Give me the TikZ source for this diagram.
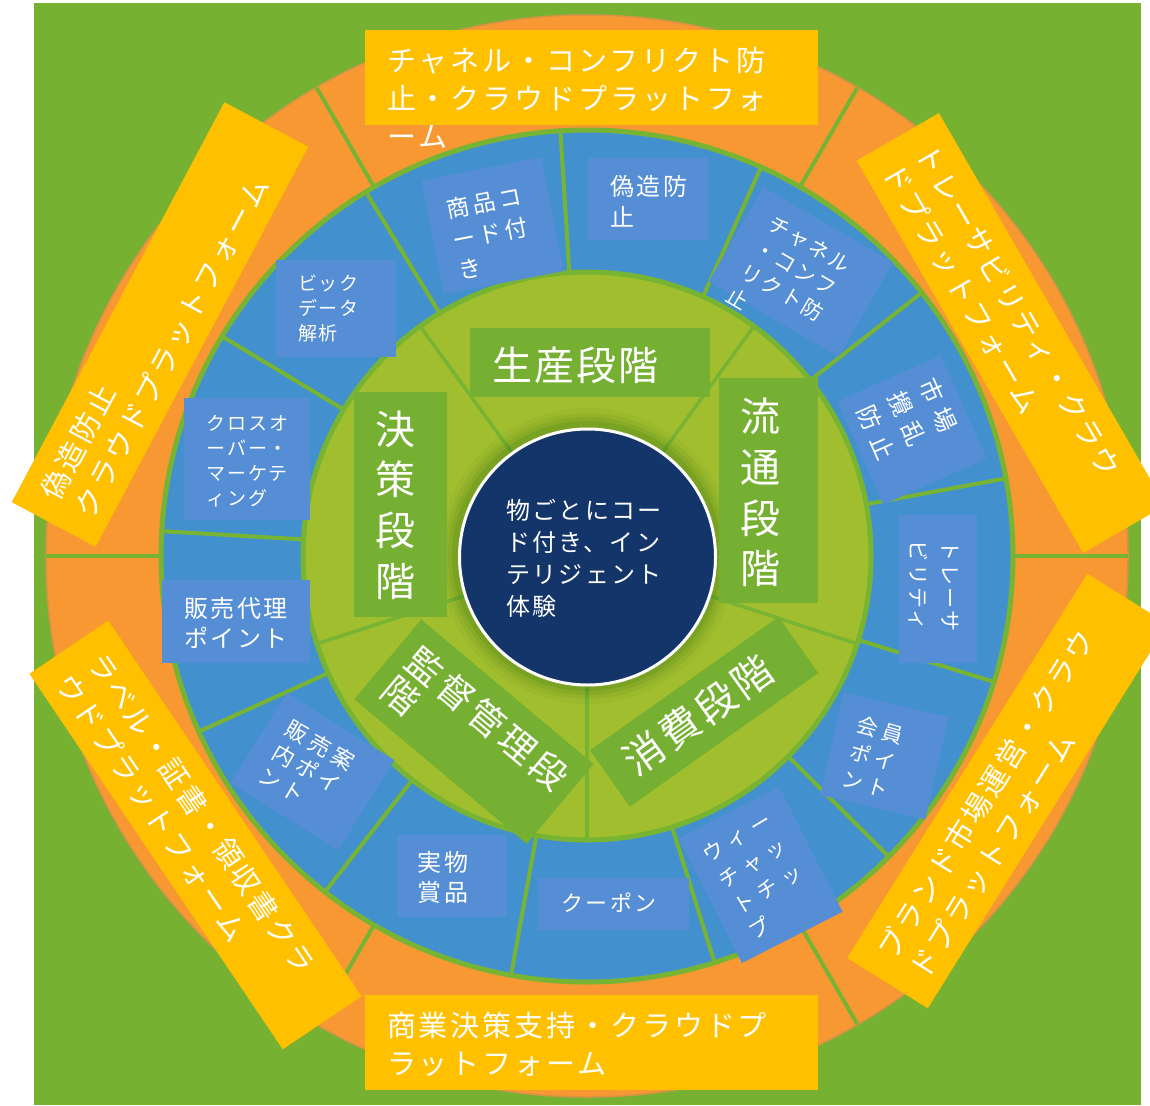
\documentclass[tikz,border=0pt]{standalone}
\usepackage{fontspec}
\setmainfont{Noto Sans CJK JP}
\definecolor{bggreen}{RGB}{119,177,50}
\definecolor{orng}{RGB}{247,152,51}
\definecolor{ringblue}{RGB}{66,145,206}
\definecolor{lblue}{RGB}{85,142,213}
\definecolor{lgreen}{RGB}{161,190,46}
\definecolor{sgreen}{RGB}{118,176,50}
\definecolor{yel}{RGB}{255,192,0}
\definecolor{navy}{RGB}{19,53,105}
\definecolor{divg}{RGB}{120,180,52}
\newcommand\myfs[3]{\fontsize{#1}{#2}\selectfont\addfontfeatures{LetterSpace=#3}}
\tikzset{
  lbox/.style={fill=lblue, inner sep=0pt},
  wtext/.style={text=white, align=left, inner sep=0pt},
  sbox/.style={fill=sgreen, inner sep=0pt},
  ybox/.style={fill=yel, inner sep=0pt, minimum width=453pt, minimum height=95pt},
  ytext/.style={text=white, align=left, inner xsep=22pt, inner ysep=17pt, anchor=north west, font=\myfs{29}{38}{10}},
  divline/.style={draw=divg, line width=4pt},
}
\begin{document}
\begin{tikzpicture}[x=1pt,y=1pt]
\useasboundingbox (0,0) rectangle (1150,-1105);
\fill[white] (0,0) rectangle (1150,-1105);
\fill[bggreen] (34,-3) rectangle (1141,-1105);
\coordinate (C) at (587,-556);
% rings
\fill[orng] (C) circle[radius=541];
\draw[orng!75!gray, line width=1.5pt] (C) circle[radius=541];
\fill[ringblue] (C) circle[radius=426];
\fill[lgreen] (C) circle[radius=284];
% orange ring dividers
\foreach \a in {0,60,...,300} {\draw[divline] (C) ++(\a:426) -- ++(\a:115);}
% blue ring dividers
\foreach \k in {0,...,12} {\pgfmathsetmacro\ang{10.5+27.6923*\k}
  \draw[divline] (C) ++(\ang:284) -- ++(\ang:142);}
\draw[divg, line width=5pt] (C) circle[radius=426];
\draw[divg, line width=5pt] (C) circle[radius=284];
% light green ring dividers
\foreach \a in {54,126,198,270,342} {\draw[divg, line width=3.5pt] (C) ++(\a:129) -- ++(\a:155);}
% core shadow and core
\foreach \r/\o in {148/0.04,143/0.05,139/0.07,135/0.09} {\fill[black!70!green, opacity=\o] (C) circle[radius=\r];}
\node[circle, fill=navy, draw=white, line width=3pt, minimum size=256pt, inner sep=0pt] (core) at (587.5,-557) {};
\node[wtext, font=\myfs{24}{32}{10}] (coret) at (584,-558) {物ごとにコー\\ド付き、イン\\テリジェント\\体験};

% blue ring labels
\node[lbox, rotate=11, minimum width=122pt, minimum height=116pt] (b1) at (492.5,-225.8) {};
\node[wtext, rotate=11, font=\myfs{23}{31}{14}] (b1t) at (490,-233) {商品コ\\ード付\\き};
\node[lbox, minimum width=120pt, minimum height=82pt] (b2) at (648,-199) {};
\node[wtext, font=\myfs{24}{31}{10}] (b2t) at (649,-201) {偽造防\\止};
\node[lbox, rotate=-30, minimum width=150pt, minimum height=109pt] (b3) at (801,-272) {};
\node[wtext, rotate=-30, font=\myfs{21}{27.7}{11}] (b3t) at (789,-280) {チャネル\\・コンフ\\リクト防\\止};
\node[lbox, rotate=-66, minimum width=113pt, minimum height=113pt] (b4) at (912,-430) {};
\node[wtext, rotate=-66, font=\myfs{24}{34}{35}] (b4t) at (907,-419) {市場\\攪乱\\防止};
\node[lbox, minimum width=78pt, minimum height=148pt] (b5) at (938,-589) {};
\node[wtext, rotate=-90, font=\myfs{21}{32}{11}] (b5t) at (934,-586) {トレーサ\\ビリティ};
\node[lbox, rotate=-13, minimum width=108pt, minimum height=105pt] (b6) at (884.5,-756) {};
\node[wtext, rotate=-16, font=\myfs{21}{28}{22}] (b6t) at (873,-756.5) {会員\\ポイ\\ント};
\node[lbox, rotate=27, minimum width=113pt, minimum height=140pt] (b7) at (760.5,-875) {};
\node[wtext, rotate=31, font=\myfs{21}{30}{30}] (b7t) at (760,-876) {ウィー\\チャッ\\トチッ\\プ};
\node[lbox, minimum width=151pt, minimum height=52pt] (b8) at (613.5,-904) {};
\node[wtext, font=\myfs{22}{28}{12}] (b8t) at (609,-903) {クーポン};
\node[lbox, minimum width=110pt, minimum height=82pt] (b9) at (452,-876) {};
\node[wtext, font=\myfs{24}{30}{12}] (b9t) at (443,-877) {実物\\賞品};
\node[lbox, rotate=-32, minimum width=127pt, minimum height=106pt] (b10) at (312.5,-771.5) {};
\node[wtext, rotate=-30, font=\myfs{22}{26.8}{20}] (b10t) at (307,-768) {販売案\\内ポイ\\ント};
\node[lbox, minimum width=148pt, minimum height=83pt] (b11) at (236,-621.5) {};
\node[wtext, font=\myfs{24}{30}{10}] (b11t) at (236,-623) {販売代理\\ポイント};
\node[lbox, minimum width=126pt, minimum height=122pt] (b12) at (247,-459) {};
\node[wtext, font=\myfs{19}{25}{9}] (b12t) at (247.5,-460.8) {クロスオ\\ーバー・\\マーケテ\\ィング};
\node[lbox, minimum width=120pt, minimum height=97pt] (b13) at (336,-308.5) {};
\node[wtext, font=\myfs{19}{25}{9}] (b13t) at (328.5,-308.3) {ビック\\データ\\解析};

% stage labels
\node[sbox, minimum width=240pt, minimum height=69pt] (s1) at (590,-362.5) {};
\node[wtext, font=\myfs{40}{48}{5}] (s1t) at (575,-365) {生産段階};
\node[sbox, minimum width=99pt, minimum height=225pt] (s2) at (768.5,-490.5) {};
\node[wtext, align=center, font=\myfs{40}{50.7}{0}] (s2t) at (760,-492.5) {流\\通\\段\\階};
\node[sbox, minimum width=93pt, minimum height=225pt] (s3) at (400.5,-504.5) {};
\node[wtext, align=center, font=\myfs{40}{50.7}{0}] (s3t) at (395,-505) {決\\策\\段\\階};
\node[sbox, rotate=-40, minimum width=225pt, minimum height=104pt] (s4) at (474,-731.7) {};
\node[wtext, rotate=-40, font=\myfs{36}{37}{12}] (s4t) at (475,-733) {監督管理段\\階};
\node[sbox, rotate=35.3, minimum width=231pt, minimum height=69pt] (s5) at (704.2,-711.7) {};
\node[wtext, rotate=35.5, font=\myfs{40}{48}{10}] (s5t) at (698,-715) {消費段階};

% yellow platform boxes
\node[ybox] (y1) at (591.5,-77.5) {};
\node[ytext] (y1t) at (y1.north west) {チャネル・コンフリクト防\\止・クラウドプラットフォ\\ーム};
\node[ybox] (y2) at (591.5,-1042.5) {};
\node[ytext] (y2t) at (y2.north west) {商業決策支持・クラウドプ\\ラットフォーム};
\node[ybox, rotate=-60] (y3) at (1011,-333) {};
\node[ytext, rotate=-60] (y3t) at (y3.north west) {トレーサビリティ・クラウ\\ドプラットフォーム};
\node[ybox, rotate=62] (y4) at (160,-324.5) {};
\node[ytext, rotate=62] (y4t) at (y4.north west) {偽造防止\\クラウドプラットフォーム};
\node[ybox, rotate=-56] (y5) at (195.5,-835) {};
\node[ytext, rotate=-56] (y5t) at (y5.north west) {ラベル・証書・領収書クラ\\ウドプラットフォーム};
\node[ybox, rotate=58] (y6) at (1007.5,-791) {};
\node[ytext, rotate=58] (y6t) at (y6.north west) {ブランド市場運営・クラウ\\ドプラットフォーム};
\end{tikzpicture}
\end{document}
